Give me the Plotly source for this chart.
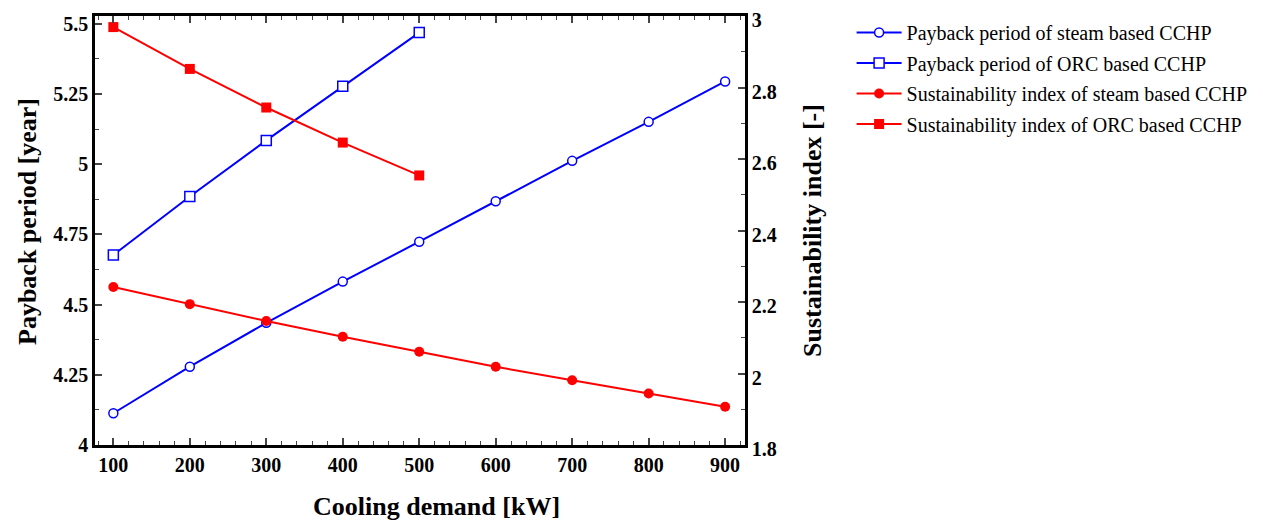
import plotly.graph_objects as go

cooling_demand = [100, 200, 300, 400, 500, 600, 700, 800, 900]
cooling_demand_orc = [100, 200, 300, 400, 500]
payback_steam = [4.113, 4.279, 4.435, 4.582, 4.724, 4.868, 5.012, 5.151, 5.295]
payback_orc = [4.677, 4.885, 5.085, 5.278, 5.469]
si_steam = [2.242, 2.194, 2.147, 2.103, 2.061, 2.019, 1.981, 1.944, 1.907]
si_orc = [2.969, 2.852, 2.744, 2.646, 2.554]

left_ticks = [4, 4.25, 4.5, 4.75, 5, 5.25, 5.5]
left_ticktext = ["4", "4.25", "4.5", "4.75", "5", "5.25", "5.5"]
right_ticks = [1.8, 2.0, 2.2, 2.4, 2.6, 2.8, 3.0]
right_ticktext = ["1.8", "2", "2.2", "2.4", "2.6", "2.8", "3"]
x_ticks = [100, 200, 300, 400, 500, 600, 700, 800, 900]

x_title = "Cooling demand [kW]"
left_title = "Payback period [year]"
right_title = "Sustainability index [-]"

FONT = "Liberation Serif, Times New Roman, serif"
BLUE = "#0000FF"
RED = "#FF0000"

fig = go.Figure()
fig.add_trace(go.Scatter(x=cooling_demand, y=payback_steam, mode="lines+markers",
                         name="Payback period of steam based CCHP", legendgroup="a",
                         line=dict(color=BLUE, width=2),
                         marker=dict(symbol="circle", size=9, color="white", line=dict(width=1.5, color=BLUE))))
fig.add_trace(go.Scatter(x=cooling_demand_orc, y=payback_orc, mode="lines+markers",
                         name="Payback period of ORC based CCHP", legendgroup="b",
                         line=dict(color=BLUE, width=2),
                         marker=dict(symbol="square", size=10, color="white", line=dict(width=1.5, color=BLUE))))
fig.add_trace(go.Scatter(x=cooling_demand, y=si_steam, mode="lines+markers", yaxis="y2",
                         name="Sustainability index of steam based CCHP", legendgroup="c",
                         line=dict(color=RED, width=2),
                         marker=dict(symbol="circle", size=10, color=RED)))
fig.add_trace(go.Scatter(x=cooling_demand_orc, y=si_orc, mode="lines+markers", yaxis="y2",
                         name="Sustainability index of ORC based CCHP", legendgroup="d",
                         line=dict(color=RED, width=2),
                         marker=dict(symbol="square", size=10, color=RED)))

tick_font = dict(family=FONT, size=20, color="black", weight="bold")
title_font = dict(family=FONT, size=26, color="black", weight="bold")

fig.update_layout(
    width=1263, height=524,
    margin=dict(l=87, r=526, t=8, b=87, autoexpand=False),
    plot_bgcolor="white", paper_bgcolor="white",
    font=dict(family=FONT, color="black"),
    xaxis=dict(range=[76, 926], tickvals=x_ticks, ticks="inside", ticklen=7, tickwidth=1.5,
               minor=dict(dtick=20, ticks="inside", ticklen=4, tickwidth=1),
               showline=True, linewidth=2.5, linecolor="black", mirror="ticks",
               showgrid=False, zeroline=False, tickfont=tick_font, automargin=False,
               ticklabeloverflow="allow"),
    yaxis=dict(range=[4, 5.528], tickvals=left_ticks, ticktext=left_ticktext,
               ticks="inside", ticklen=7, tickwidth=1.5,
               minor=dict(dtick=0.125, ticks="inside", ticklen=4, tickwidth=1),
               showline=True, linewidth=2.5, linecolor="black",
               showgrid=False, zeroline=False, tickfont=tick_font, automargin=False,
               ticklabeloverflow="allow"),
    yaxis2=dict(range=[1.8, 3.0], tickvals=right_ticks, ticktext=right_ticktext,
                overlaying="y", side="right",
                ticks="inside", ticklen=7, tickwidth=1.5,
                minor=dict(dtick=0.1, ticks="inside", ticklen=4, tickwidth=1),
                showline=True, linewidth=2.5, linecolor="black",
                showgrid=False, zeroline=False, tickfont=tick_font, automargin=False,
                ticklabeloverflow="allow", ticklabelshift=4,
                title=dict(text=right_title, font=title_font, standoff=28)),
    legend=dict(x=1.164, y=1.007, xanchor="left", yanchor="top",
                font=dict(family=FONT, size=20, color="black"),
                bgcolor="rgba(0,0,0,0)", tracegroupgap=1.5, itemwidth=45),
    showlegend=True,
    annotations=[
        dict(text=x_title, xref="paper", yref="paper", x=0.526, y=-0.1443,
             xanchor="center", yanchor="middle", showarrow=False, font=title_font),
        dict(text=left_title, xref="paper", yref="paper", x=-0.103, y=0.52,
             xanchor="center", yanchor="middle", showarrow=False, font=title_font,
             textangle=-90),
    ],
)

fig.write_html("out.html")
